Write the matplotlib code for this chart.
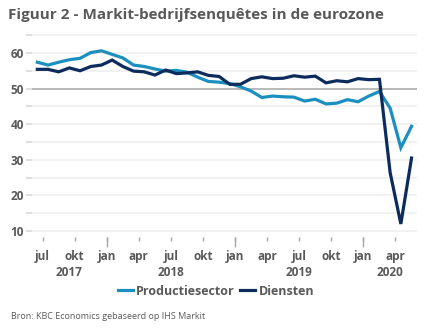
import matplotlib
matplotlib.use("Agg")
import matplotlib.pyplot as plt
import matplotlib.transforms as mtransforms
import numpy as np

# maandelijkse PMI, jun 2017 - mei 2020
months = ["jun", "jul", "aug", "sep", "okt", "nov", "dec",
          "jan", "feb", "mrt", "apr", "mei", "jun", "jul", "aug", "sep", "okt", "nov", "dec",
          "jan", "feb", "mrt", "apr", "mei", "jun", "jul", "aug", "sep", "okt", "nov", "dec",
          "jan", "feb", "mrt", "apr", "mei"]
productie = [57.4, 56.6, 57.4, 58.1, 58.5, 60.1, 60.6,
             59.6, 58.6, 56.6, 56.2, 55.5, 54.9, 55.1, 54.6, 53.2, 52.0, 51.8, 51.4,
             50.5, 49.3, 47.5, 47.9, 47.7, 47.6, 46.5, 47.0, 45.7, 45.9, 46.9, 46.3,
             47.9, 49.2, 44.5, 33.4, 39.4]
diensten = [55.4, 55.4, 54.7, 55.8, 55.0, 56.2, 56.6,
            58.0, 56.2, 54.9, 54.7, 53.8, 55.2, 54.2, 54.4, 54.7, 53.7, 53.4, 51.2,
            51.2, 52.8, 53.3, 52.8, 52.9, 53.6, 53.2, 53.5, 51.6, 52.2, 51.9, 52.8,
            52.5, 52.6, 26.4, 12.0, 30.5]
years = ["2017", "2018", "2019", "2020"]
year_start = [0, 7, 19, 31]
year_end = [6, 18, 30, 35]

grey_txt = "#595959"
light_blue = "#1b8fc0"
navy = "#0b2c5c"

plt.rcParams["font.family"] = ["Open Sans", "DejaVu Sans"]

fig = plt.figure(figsize=(4.32, 3.34), dpi=100)
ax = fig.add_axes([0.074, 0.29, 0.891, 0.608])

x = np.arange(len(months))
ax.plot(x, productie, color=light_blue, lw=2.3, label="Productiesector", solid_joinstyle="miter")
ax.plot(x, diensten, color=navy, lw=2.3, label="Diensten", solid_joinstyle="miter")

ax.set_xlim(-0.5, len(months) - 0.5)
ax.set_ylim(8.3, 65.3)

# rasterlijnen
for v in range(10, 70, 5):
    if v == 50:
        ax.axhline(v, color="#b3b3b3", lw=1.3, zorder=0.5)
    else:
        ax.axhline(v, color="#f0f0f0", lw=1.3, zorder=0.5)

for s in ax.spines.values():
    s.set_visible(False)

ax.set_yticks(range(10, 70, 10))
ax.set_yticks(range(15, 70, 10), minor=True)
ax.tick_params(axis="y", which="both", length=4, color="#d9d9d9", width=1.2,
               labelsize=8.5, labelcolor=grey_txt, pad=2)
for lab in ax.get_yticklabels():
    lab.set_fontweight("bold")

# x-as: labels per kwartaal, tussen de maanden
qpos = [i - 0.5 for i in range(len(months)) if months[i] in ("jan", "apr", "jul", "okt")]
qlab = [months[i] for i in range(len(months)) if months[i] in ("jan", "apr", "jul", "okt")]
ax.set_xticks(qpos)
ax.set_xticklabels(qlab, fontweight="bold")
jpos = [s - 0.5 for s in year_start[1:]]
ax.set_xticks(jpos, minor=True)
ax.xaxis.remove_overlapping_locs = False
ax.tick_params(axis="x", which="major", length=3, color="#a6a6a6", width=1,
               labelsize=8.5, labelcolor=grey_txt, pad=6)
ax.tick_params(axis="x", which="minor", length=7, color="#a6a6a6", width=1)

trans = mtransforms.blended_transform_factory(ax.transData, ax.transAxes)
for yr, a, b in zip(years, year_start, year_end):
    ax.text((a + b) / 2, -0.172, yr, transform=trans, ha="center", va="center",
            fontsize=8.5, fontweight="bold", color=grey_txt)

leg = fig.legend(loc="center", bbox_to_anchor=(0.5, 0.128), ncol=2, frameon=False,
                 handlelength=1.2, handletextpad=0.3, columnspacing=0.4,
                 prop={"size": 9, "weight": "bold"})
for t in leg.get_texts():
    t.set_color(grey_txt)

fig.text(0.018, 0.955, "Figuur 2 - Markit-bedrijfsenquêtes in de eurozone",
         fontsize=11, fontweight="bold", color=grey_txt, va="center", ha="left")
fig.text(0.025, 0.052, "Bron: KBC Economics gebaseerd op IHS Markit",
         fontsize=6.5, color=grey_txt, va="center", ha="left")

fig.savefig("out.png", dpi=100)
